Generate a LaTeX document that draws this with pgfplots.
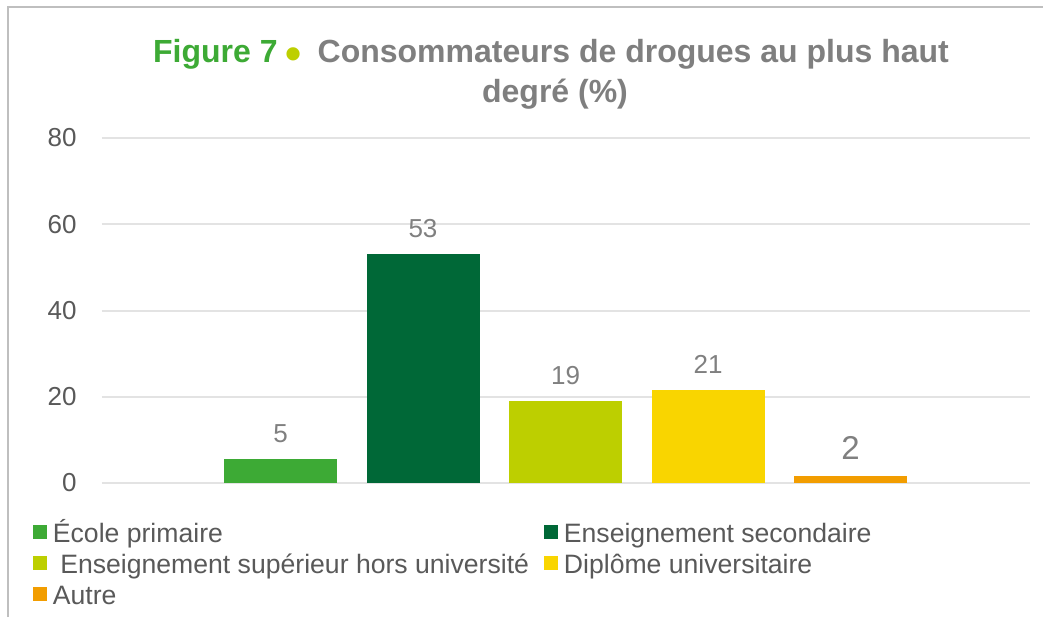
\documentclass[border=0pt]{standalone}
\usepackage{fontspec}
\setmainfont{Liberation Sans}
\usepackage{pgfplots}
\pgfplotsset{compat=1.18}

\definecolor{cA}{HTML}{3DAA35}
\definecolor{cB}{HTML}{006837}
\definecolor{cC}{HTML}{BDCF00}
\definecolor{cD}{HTML}{F9D500}
\definecolor{cE}{HTML}{F29D00}
\definecolor{titlegray}{HTML}{7F7F7F}
\definecolor{tickgray}{HTML}{595959}
\definecolor{labelgray}{HTML}{808080}
\definecolor{gridgray}{HTML}{E3E3E3}
\definecolor{bordergray}{HTML}{BFBFBF}

\newcommand{\legtxt}[1]{\vphantom{Ép}#1}

\begin{document}
\begin{tikzpicture}
\fill[white] (0,0) rectangle (521.5pt,308.5pt);
\draw[bordergray, line width=1pt] (4pt,0pt) -- (4pt,305pt) -- (521.5pt,305pt);

% title
\node[anchor=base, font=\bfseries\fontsize{16}{19}\selectfont, text=titlegray, inner sep=0pt]
  at (275.5pt,277pt) {\textcolor{cA}{Figure 7}\hspace{4pt}\raisebox{-3.2pt}{\textcolor{cC}{\fontsize{23}{23}\selectfont •}}\hspace{8pt}Consommateurs de drogues au plus haut};
\node[anchor=base, font=\bfseries\fontsize{16}{19}\selectfont, text=titlegray, inner sep=0pt]
  at (277.5pt,257pt) {degré (\%)};

\begin{axis}[
  at={(51pt,67pt)}, anchor=south west,
  scale only axis, width=464pt, height=172.5pt,
  xmin=-0.2526, xmax=6.2596, ymin=0, ymax=80,
  ytick={0,20,40,60,80}, xtick=\empty,
  ymajorgrids, grid style={gridgray, line width=1pt},
  axis line style={draw=none}, major tick length=0pt,
  yticklabel style={font=\fontsize{13}{15}\selectfont, text=tickgray, anchor=east, inner sep=0pt, xshift=-12.5pt},
  /pgf/number format/assume math mode=true,
  ybar, bar width=56.5pt, bar shift=0pt,
  nodes near coords, point meta=explicit symbolic,
  every node near coord/.append style={font=\fontsize{13}{15}\selectfont, text=labelgray, anchor=south, inner sep=0pt, yshift=8pt},
  legend image code/.code={\fill[#1] (0pt,-3.5pt) rectangle (7pt,3.5pt);},
  legend columns=2,
  legend cell align=left,
  legend style={draw=none, fill=none, at={(axis description cs:-0.0744,-0.1043)}, anchor=north west,
    inner sep=0pt, outer sep=0pt, font=\fontsize{13.3}{16}\selectfont, text=tickgray,
    row sep=2.5pt, nodes={inner sep=0pt},
    /tikz/every odd column/.append style={column sep=3pt}},
]
\addplot[fill=cA, draw=none] coordinates {(1,5.6) [5]};
\addlegendentry{\makebox[245.5pt][l]{\legtxt{École primaire}}}
\addplot[fill=cB, draw=none] coordinates {(2,53.1) [53]};
\addlegendentry{\legtxt{Enseignement secondaire}}
\addplot[fill=cC, draw=none] coordinates {(3,19.0) [19]};
\addlegendentry{\makebox[245.5pt][l]{\legtxt{\ Enseignement supérieur hors université}}}
\addplot[fill=cD, draw=none] coordinates {(4,21.6) [21]};
\addlegendentry{\legtxt{Diplôme universitaire}}
\addplot[fill=cE, draw=none, every node near coord/.append style={font=\fontsize{16.5}{19}\selectfont}] coordinates {(5,1.6) [2]};
\addlegendentry{\makebox[245.5pt][l]{\legtxt{Autre}}}
\end{axis}

\pgfresetboundingbox
\path[use as bounding box] (0,0) rectangle (521.5pt,308.5pt);
\end{tikzpicture}
\end{document}
